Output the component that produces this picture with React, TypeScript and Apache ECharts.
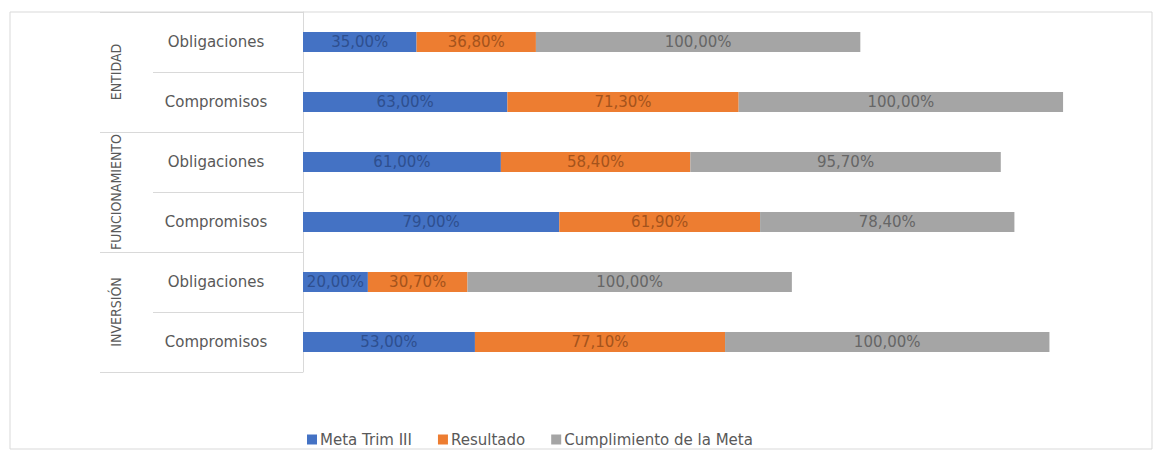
import React, { useEffect, useRef } from "react";
import * as echarts from "echarts";

const groups = ["ENTIDAD", "FUNCIONAMIENTO", "INVERSIÓN"];
const subCategories = [
  "ENTIDAD|Obligaciones",
  "ENTIDAD|Compromisos",
  "FUNCIONAMIENTO|Obligaciones",
  "FUNCIONAMIENTO|Compromisos",
  "INVERSIÓN|Obligaciones",
  "INVERSIÓN|Compromisos",
];
const metaTrimIII = [35, 63, 61, 79, 20, 53];
const resultado = [36.8, 71.3, 58.4, 61.9, 30.7, 77.1];
const cumplimiento = [100, 100, 95.7, 78.4, 100, 100];
const seriesNames = ["Meta Trim III", "Resultado", "Cumplimiento de la Meta"];

const fmt = (v: number) => v.toFixed(2).replace(".", ",") + "%";

export default function App() {
  const ref = useRef<HTMLDivElement>(null);
  useEffect(() => {
    document.body.style.margin = "0";
    if (!ref.current) return;
    const chart = echarts.init(ref.current, undefined, { renderer: "svg" });
    const labelBase = {
      show: true,
      position: "inside" as const,
      fontFamily: "DejaVu Sans",
      fontSize: 15,
      formatter: (p: any) => fmt(p.value),
    };
    chart.setOption({
      animation: false,
      backgroundColor: "#ffffff",
      graphic: [
        {
          type: "rect",
          shape: { x: 10, y: 12, width: 1142, height: 437 },
          style: { fill: "none", stroke: "#D9D9D9", lineWidth: 1 },
          silent: true,
        },
      ],
      grid: { left: 303, top: 12, width: 811, height: 360, containLabel: false },
      xAxis: { type: "value", min: 0, max: 250, show: false },
      yAxis: [
        {
          type: "category",
          inverse: true,
          data: subCategories,
          position: "left",
          axisLine: { show: true, lineStyle: { color: "#D9D9D9" } },
          axisTick: { show: true, length: 150, lineStyle: { color: "#D9D9D9" } },
          axisLabel: {
            interval: 0,
            formatter: (v: string) => v.split("|")[1],
            align: "center",
            margin: 87,
            color: "#595959",
            fontFamily: "DejaVu Sans",
            fontSize: 15,
          },
        },
        {
          type: "category",
          inverse: true,
          data: groups,
          position: "left",
          offset: 150,
          axisLine: { show: false },
          axisTick: { show: true, interval: 0, length: 53, lineStyle: { color: "#D9D9D9" } },
          axisLabel: {
            interval: 0,
            rotate: 90,
            margin: 30,
            color: "#595959",
            fontFamily: "DejaVu Sans Condensed, Liberation Sans Narrow, sans-serif",
            fontSize: 14,
          },
        },
      ],
      legend: {
        data: seriesNames,
        left: 302,
        top: 427,
        icon: "rect",
        itemWidth: 10,
        itemHeight: 10,
        itemGap: 26,
        textStyle: { color: "#595959", fontFamily: "DejaVu Sans", fontSize: 15, padding: [0, 0, 0, -2] },
      },
      series: [
        {
          name: seriesNames[0],
          type: "bar",
          stack: "total",
          barWidth: 20,
          data: metaTrimIII,
          itemStyle: { color: "#4472C4" },
          label: { ...labelBase, color: "#2E4F8F" },
        },
        {
          name: seriesNames[1],
          type: "bar",
          stack: "total",
          barWidth: 20,
          data: resultado,
          itemStyle: { color: "#ED7D31" },
          label: { ...labelBase, color: "#A4531C" },
        },
        {
          name: seriesNames[2],
          type: "bar",
          stack: "total",
          barWidth: 20,
          data: cumplimiento,
          itemStyle: { color: "#A5A5A5" },
          label: { ...labelBase, color: "#666666" },
        },
      ],
    });
    return () => chart.dispose();
  }, []);
  return <div ref={ref} style={{ width: 1154, height: 450 }} />;
}
